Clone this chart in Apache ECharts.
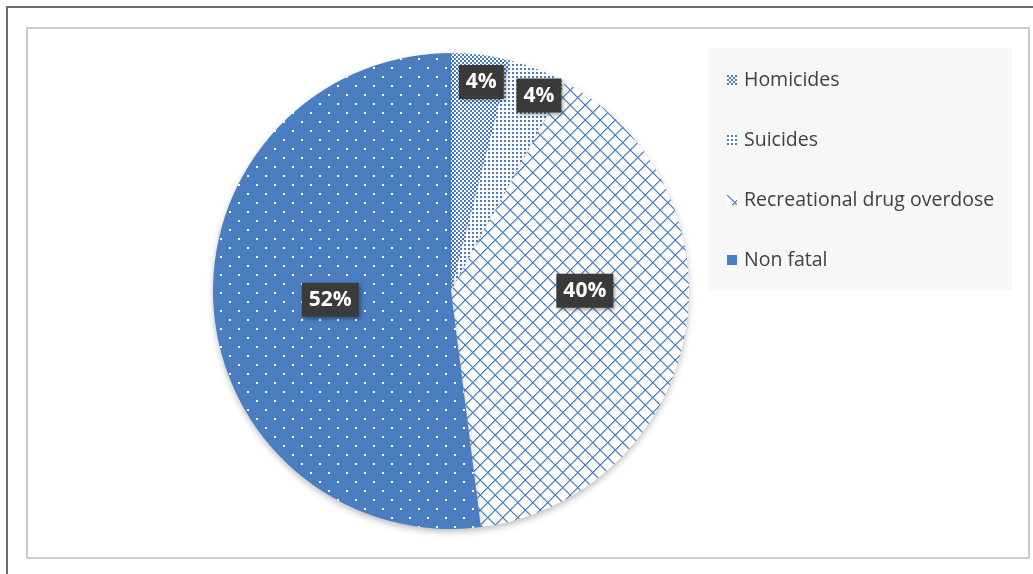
<!DOCTYPE html>
<html>
<head>
<meta charset="utf-8">
<script src="https://cdn.jsdelivr.net/npm/echarts@6/dist/echarts.min.js"></script>
<style>
  html, body { margin: 0; padding: 0; background: #fff; }
  #wrap { position: relative; width: 1033px; height: 574px; overflow: hidden; }
  .outer { position: absolute; left: 6px; top: 6px; width: 1100px; height: 700px; border-left: 2px solid #6b6b6b; border-top: 2px solid #6b6b6b; }
  .inner { position: absolute; left: 26px; top: 27px; width: 1000px; height: 528px; border: 2px solid #cbcbcb; }
  #main { position: absolute; left: 0; top: 0; width: 1033px; height: 574px; }
</style>
</head>
<body>
<div id="wrap">
  <div class="outer"></div>
  <div class="inner"></div>
  <div id="main"></div>
</div>
<script>
  // data
  const categories = ['Homicides', 'Suicides', 'Recreational drug overdose', 'Non fatal']
  const values = [4, 4, 40, 52]

  const blue = '#4b7ec1'

  // fill patterns like the office chart
  function makePattern(size, draw) {
    const c = document.createElement('canvas')
    c.width = size[0]
    c.height = size[1]
    const ctx = c.getContext('2d')
    draw(ctx)
    return { image: c, repeat: 'repeat' }
  }

  const checker = makePattern([4, 4], (ctx) => {
    ctx.fillStyle = '#fff'
    ctx.fillRect(0, 0, 4, 4)
    ctx.fillStyle = blue
    ctx.fillRect(0, 0, 2, 2)
    ctx.fillRect(2, 2, 2, 2)
  })

  const dots = makePattern([4, 4], (ctx) => {
    ctx.fillStyle = '#fff'
    ctx.fillRect(0, 0, 4, 4)
    ctx.fillStyle = blue
    ctx.fillRect(0, 0, 2, 2)
  })

  const lattice = makePattern([15, 15], (ctx) => {
    ctx.fillStyle = '#fff'
    ctx.fillRect(0, 0, 15, 15)
    ctx.fillStyle = blue
    for (let i = 0; i < 15; i++) {
      ctx.fillRect(i, i, 1.5, 1.2)
      ctx.fillRect(14 - i, i, 1.5, 1.2)
    }
  })

  const solidDots = makePattern([18, 18], (ctx) => {
    ctx.fillStyle = blue
    ctx.fillRect(0, 0, 18, 18)
    ctx.fillStyle = '#fff'
    ctx.fillRect(4, 4, 2, 2)
    ctx.fillRect(13, 13, 2, 2)
  })

  const fills = [checker, dots, lattice, solidDots]
  // label nudges from the default inside spot
  const labelOffsets = [[15, -88], [43, -82], [14, -23], [1, 1]]

  const seriesData = categories.map((name, i) => ({
    name: name,
    value: values[i],
    itemStyle: { color: fills[i] },
    label: { offset: labelOffsets[i] }
  }))

  const legendData = categories.map((name, i) =>
    i === 3 ? { name: name, itemStyle: { color: blue } } : { name: name })

  const myChart = echarts.init(document.getElementById('main'), null, { renderer: 'canvas' })

  myChart.setOption({
    animation: false,
    legend: {
      orient: 'vertical',
      left: 708,
      top: 48,
      backgroundColor: '#f7f7f7',
      padding: [22, 18, 20, 19],
      itemWidth: 10,
      itemHeight: 10,
      itemGap: 40,
      icon: 'rect',
      textStyle: {
        fontFamily: 'Open Sans',
        fontSize: 19.5,
        color: '#404040',
        lineHeight: 20,
        padding: [0, 0, 0, 2]
      },
      data: legendData
    },
    series: [{
      type: 'pie',
      center: [451, 291],
      radius: 238,
      startAngle: 90,
      clockwise: true,
      itemStyle: {
        shadowBlur: 6,
        shadowColor: 'rgba(0,0,0,0.25)',
        shadowOffsetY: 3
      },
      label: {
        show: true,
        position: 'inside',
        formatter: '{c}%',
        fontFamily: 'Open Sans',
        fontWeight: 'bold',
        fontSize: 21,
        color: '#fff',
        backgroundColor: '#3a3a3a',
        padding: [7, 7, 6, 7],
        shadowBlur: 4,
        shadowColor: 'rgba(0,0,0,0.35)',
        shadowOffsetX: 2,
        shadowOffsetY: 2
      },
      labelLine: { show: false },
      emphasis: { disabled: true },
      data: seriesData
    }]
  })
</script>
</body>
</html>
